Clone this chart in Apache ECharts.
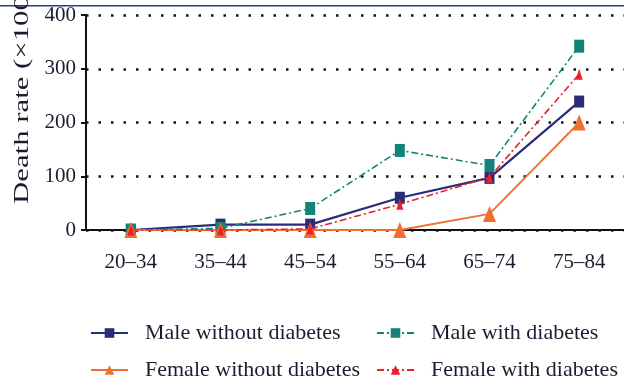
<!DOCTYPE html>
<html>
<head>
<meta charset="utf-8">
<style>
  html, body { margin: 0; padding: 0; background: #fff; }
  #chart { width: 624px; height: 384px; }
</style>
<script src="https://cdn.jsdelivr.net/npm/echarts@6/dist/echarts.min.js"></script>
</head>
<body>
<div id="chart"></div>
<script>
// Age groups on the x axis
const ageGroups = ['20–34', '35–44', '45–54', '55–64', '65–74', '75–84'];

// Death rates per age group
const maleWithout = [0, 10, 10, 60, 97, 239];
const maleWith = [0, 3, 40, 148, 120, 342];
const femaleWithout = [0, 0, 0, 0, 30, 200];
const femaleWith = [0, 0, 2, 48, 98, 290];

// Value axis ticks
const yTicks = [0, 100, 200, 300, 400];

const seriesNames = [
  'Male without diabetes',
  'Male with diabetes',
  'Female without diabetes',
  'Female with diabetes'
];

const serif = 'Liberation Serif';
const textColor = '#1c1c30';
const dashDot = [7, 3, 2, 3];

const chart = echarts.init(document.getElementById('chart'), null, { renderer: 'canvas' });

function legendItem(name, left, top) {
  return {
    data: [name],
    left: left,
    top: top,
    itemWidth: 37,
    itemHeight: 12,
    padding: 0,
    textStyle: {
      fontFamily: serif,
      fontSize: 22,
      color: textColor,
      padding: [0, 0, 0, 12]
    }
  };
}

chart.setOption({
  animation: false,
  backgroundColor: '#ffffff',
  grid: { left: 86, top: 15, width: 542, height: 215 },
  xAxis: {
    type: 'category',
    data: ageGroups,
    boundaryGap: true,
    axisLine: { lineStyle: { color: '#111', width: 2 } },
    axisTick: { show: false },
    axisLabel: { fontFamily: serif, fontSize: 21, color: textColor, margin: 22 },
    splitLine: { show: false }
  },
  yAxis: {
    type: 'value',
    min: yTicks[0],
    max: yTicks[yTicks.length - 1],
    interval: 100,
    axisLine: { show: true, lineStyle: { color: '#111', width: 2 } },
    axisTick: { show: true, length: 5, lineStyle: { color: '#111', width: 2 } },
    axisLabel: { fontFamily: serif, fontSize: 21, color: textColor, margin: 10 },
    splitLine: { show: true, lineStyle: { color: '#111', width: 2.5, type: [2.5, 10] } }
  },
  legend: [
    legendItem(seriesNames[0], 90, 322),
    legendItem(seriesNames[1], 376, 322),
    legendItem(seriesNames[2], 90, 359),
    legendItem(seriesNames[3], 376, 359)
  ],
  series: [
    {
      name: seriesNames[0],
      type: 'line',
      data: maleWithout,
      symbol: 'rect',
      symbolSize: [10, 12],
      itemStyle: { color: '#2b2c78' },
      lineStyle: { color: '#2b2c78', width: 2.2 },
      z: 2
    },
    {
      name: seriesNames[1],
      type: 'line',
      data: maleWith,
      symbol: 'rect',
      symbolSize: [10, 13],
      itemStyle: { color: '#13837a' },
      lineStyle: { color: '#13837a', width: 1.6, type: dashDot },
      z: 3
    },
    {
      name: seriesNames[2],
      type: 'line',
      data: femaleWithout,
      symbol: 'triangle',
      symbolSize: [13, 16],
      itemStyle: { color: '#f07034' },
      lineStyle: { color: '#f07034', width: 1.8 },
      z: 4
    },
    {
      name: seriesNames[3],
      type: 'line',
      data: femaleWith,
      symbol: 'triangle',
      symbolSize: [7, 11],
      itemStyle: { color: '#e8222c' },
      lineStyle: { color: '#e8222c', width: 1.6, type: dashDot },
      z: 5
    }
  ],
  graphic: [
    {
      type: 'rect',
      shape: { x: 0, y: 5, width: 624, height: 1.6 },
      style: { fill: '#24408e' },
      silent: true
    },
    {
      type: 'text',
      x: 22,
      y: 204,
      rotation: Math.PI / 2,
      scaleX: 1.4,
      style: {
        text: 'Death rate (×100,000)',
        fontFamily: serif,
        fontSize: 22,
        fill: textColor,
        align: 'left',
        verticalAlign: 'middle'
      },
      silent: true
    }
  ]
});
</script>
</body>
</html>
